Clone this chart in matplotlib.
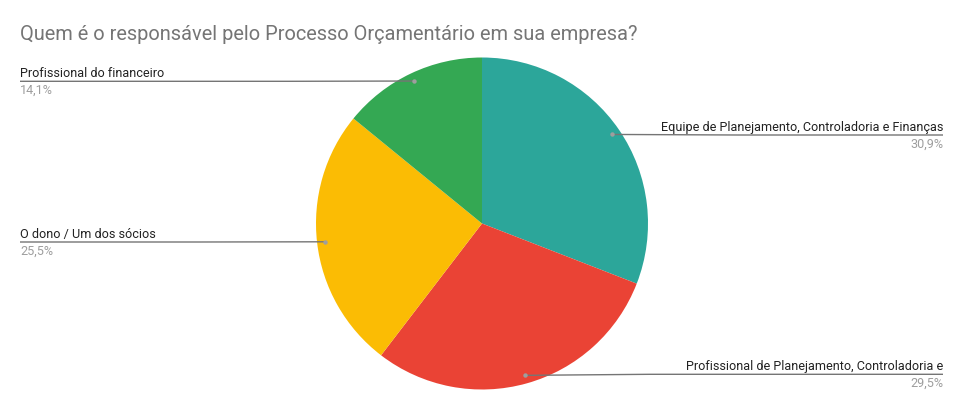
import numpy as np
import matplotlib
matplotlib.use("Agg")
import matplotlib.pyplot as plt

plt.rcParams['font.family'] = ['Roboto', 'DejaVu Sans']

title = "Quem é o responsável pelo Processo Orçamentário em sua empresa?"
categories = ["Equipe de Planejamento, Controladoria e Finanças",
              "Profissional de Planejamento, Controladoria e",
              "O dono / Um dos sócios",
              "Profissional do financeiro"]
shares = [30.9, 29.5, 25.5, 14.1]
colors = ["#2ca69a", "#ea4335", "#fbbc04", "#34a853"]

W, H = 964, 411
fig = plt.figure(figsize=(W / 100, H / 100), dpi=100)
ax = fig.add_axes([0, 0, 1, 1])

def Y(py):
    # pixel row (from top) -> data y
    return H - py

cx, cy, R = 482, Y(223.5), 166
wedges, _ = ax.pie(shares, colors=colors, startangle=90, counterclock=False,
                   center=(cx, cy), radius=R,
                   wedgeprops=dict(linewidth=0))

# label line heights (pixels from top), same order as categories
line_rows = [135, 374.3, 242, 81.3]
left_x, right_x = 20, 943

for w, name, val, row in zip(wedges, categories, shares, line_rows):
    mid = np.deg2rad((w.theta1 + w.theta2) / 2)
    dx = cx + 0.95 * R * np.cos(mid)
    dy = cy + 0.95 * R * np.sin(mid)
    ly = Y(row)
    right = dx > cx
    if right:
        xs = [dx, min(dx + 125, right_x), right_x]
        tx, ha = right_x, 'right'
    else:
        xs = [dx, max(dx - 125, left_x), left_x]
        tx, ha = left_x, 'left'
    ax.plot(xs, [dy, ly, ly], color="#757575", lw=1, solid_capstyle='butt', zorder=3)
    ax.plot([dx], [dy], 'o', ms=3.2, color="#9e9e9e", mec='none', zorder=4)
    ax.text(tx, ly + 4.4, name, ha=ha, va='baseline', fontsize=9.1, color="#222222")
    ax.text(tx, ly - 12.8, f"{val:.1f}%".replace('.', ','), ha=ha, va='baseline',
            fontsize=9.1, color="#9e9e9e")

ax.text(20, Y(40), title, ha='left', va='baseline', fontsize=14.4, color="#757575")

ax.set_xlim(0, W)
ax.set_ylim(0, H)
ax.set_aspect('auto')
ax.axis('off')

fig.savefig("out.png", dpi=100, facecolor='white')
